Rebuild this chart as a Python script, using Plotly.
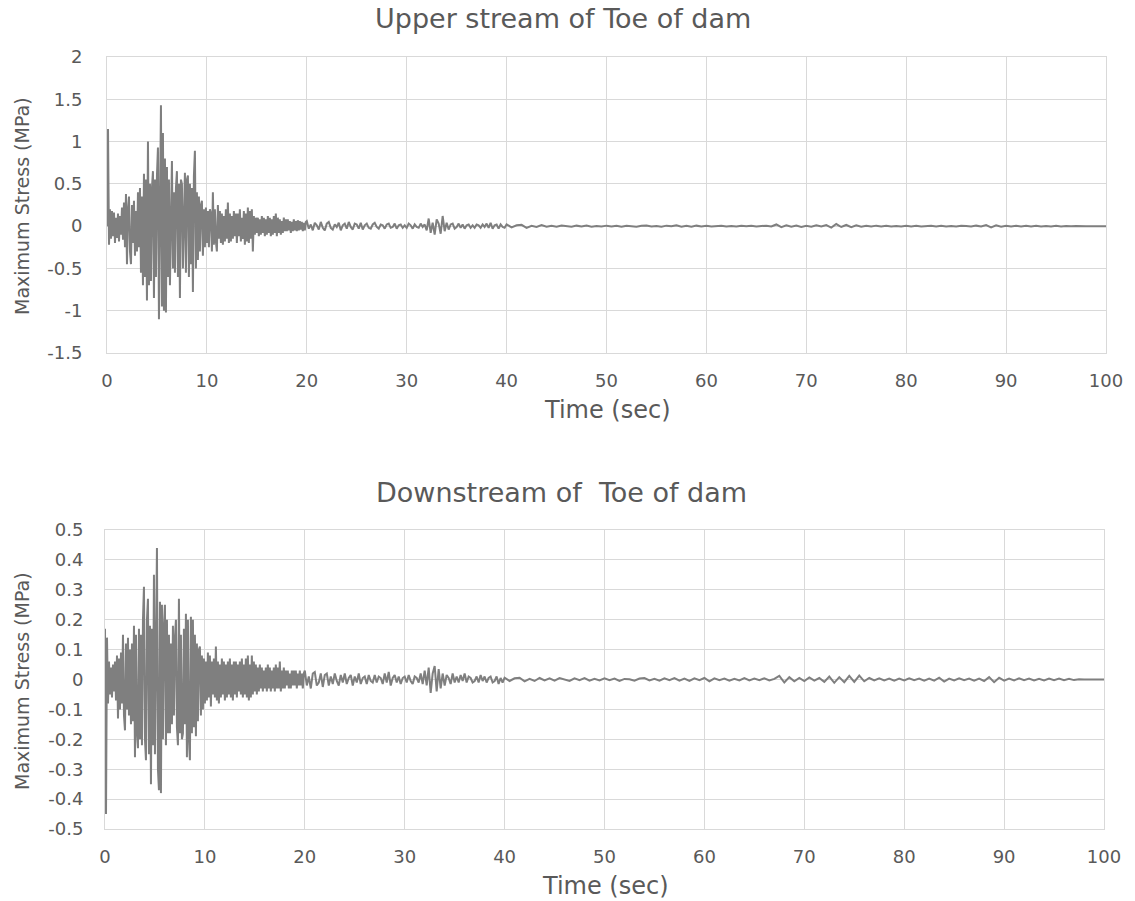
import plotly.graph_objects as go

# ---------------- data ----------------
# Sampling: 0-20 s every 0.1 s, 20-40 s every 0.2 s, 40-100 s every 0.5 s
segments = [(0.0, 0.1, 200), (20.0, 0.2, 100), (40.0, 0.5, 121)]

# Upper stream of toe of dam (MPa)
upper_0_20 = [
    0.0, 1.15, -0.22, 0.20, -0.15, 0.18, -0.12, 0.16, -0.20, 0.10,
    -0.14, 0.15, -0.18, 0.12, -0.10, 0.22, -0.16, 0.28, -0.25, 0.38,
    -0.45, 0.20, 0.35, -0.30, -0.45, 0.25, -0.20, 0.30, -0.35, 0.18,
    -0.30, 0.40, -0.25, 0.45, -0.55, 0.35, -0.70, 0.62, -0.60, 0.55,
    -0.88, 1.00, -0.70, 0.50, -0.65, 0.45, 0.65, -0.85, 0.55, -0.60,
    0.60, 0.93, -1.10, 0.75, 1.43, -0.95, 1.10, -1.00, 0.80, -1.02,
    0.70, -0.60, 0.55, -0.70, 0.45, 0.77, -0.50, 0.40, -0.55, 0.45,
    0.65, -0.60, 0.50, -0.85, 0.55, 0.50, -0.50, 0.40, 0.63, -0.55,
    0.55, 0.60, -0.60, 0.50, -0.45, 0.45, -0.78, 0.60, 0.89, -0.50,
    0.40, -0.40, 0.35, -0.30, 0.25, 0.30, -0.35, 0.20, -0.25, 0.22,
    -0.20, 0.18, -0.25, 0.20, 0.15, -0.30, 0.40, -0.22, 0.20, -0.18,
    -0.30, 0.25, -0.15, 0.18, -0.20, 0.15, -0.22, 0.12, -0.18, 0.20,
    -0.15, 0.28, -0.20, 0.15, -0.18, 0.12, -0.15, 0.18, -0.12, 0.15,
    -0.20, 0.15, -0.12, 0.20, -0.18, 0.10, -0.15, 0.18, -0.22, 0.15,
    -0.18, 0.22, -0.20, 0.18, -0.15, 0.20, -0.30, 0.12, -0.10, 0.10,
    -0.08, 0.10, -0.12, 0.08, -0.10, 0.12, -0.08, 0.10, -0.12, 0.08,
    -0.10, 0.12, -0.08, 0.10, -0.12, 0.08, -0.10, 0.12, -0.08, 0.15,
    -0.12, 0.10, -0.08, 0.08, -0.10, 0.06, -0.08, 0.10, -0.06, 0.08,
    -0.06, 0.08, -0.05, 0.06, -0.08, 0.05, -0.06, 0.08, -0.05, 0.06,
    -0.06, 0.07, -0.05, 0.06, -0.04, 0.05, -0.06, 0.04, -0.05, 0.05,
]
upper_20_40 = [
    0.06, -0.03, 0.02, -0.05, 0.04, 0.01, -0.04, 0.05, -0.02, -0.05,
    0.03, 0.05, -0.02, -0.04, 0.02, -0.01, 0.04, -0.05, 0.01, 0.03,
    -0.03, 0.05, -0.01, -0.04, 0.03, 0.02, -0.03, 0.04, -0.04, 0.01,
    0.03, -0.02, -0.03, 0.02, 0.04, -0.01, -0.03, 0.02, 0.01, -0.03,
    0.02, 0.03, -0.02, -0.01, 0.03, -0.03, 0.01, 0.02, -0.02, 0.01,
    -0.02, 0.03, 0.01, -0.03, 0.02, -0.01, -0.02, 0.03, -0.01, 0.02,
    -0.05, 0.09, -0.08, 0.04, -0.10, 0.08, 0.03, -0.09, 0.12, -0.06,
    0.04, -0.04, 0.02, 0.03, -0.03, -0.01, 0.03, -0.02, 0.02, -0.03,
    0.01, 0.02, -0.02, 0.01, -0.02, 0.02, 0.01, -0.02, 0.02, -0.01,
    0.03, -0.02, 0.04, -0.03, 0.01, 0.02, -0.03, 0.02, -0.01, -0.02,
]
upper_40_100 = [
    0.02, -0.015, 0.01, 0.015, -0.02, 0.005, -0.01, 0.012, -0.008, 0.004,
    -0.006, 0.008, 0.002, -0.008, 0.006, -0.004, 0.008, -0.006, 0.003, -0.005,
    0.006, -0.003, 0.005, -0.008, 0.004, 0.002, -0.006, 0.005, 0.008, -0.004,
    0.003, -0.006, 0.006, -0.002, 0.01, -0.006, 0.004, -0.008, 0.006, -0.003,
    0.004, -0.005, 0.003, 0.005, -0.004, 0.002, -0.005, 0.004, -0.002, 0.004,
    -0.004, 0.003, 0.006, -0.004, 0.02, -0.012, 0.01, -0.008, 0.006, -0.01,
    0.004, -0.006, 0.01, -0.004, 0.012, -0.018, 0.025, -0.01, 0.014, -0.012,
    0.01, -0.006, 0.004, -0.005, 0.006, -0.003, 0.004, -0.005, 0.003, -0.004,
    0.005, -0.003, 0.004, -0.005, 0.002, 0.004, -0.004, 0.005, -0.003, 0.003,
    -0.004, 0.004, 0.002, -0.005, 0.006, -0.004, 0.012, -0.014, 0.01, -0.006,
    0.005, -0.004, 0.004, -0.003, 0.005, -0.004, 0.006, -0.004, 0.003, -0.004,
    0.004, -0.003, 0.003, -0.002, 0.002, -0.002, 0.0, 0.0, 0.0, 0.0,
    0.0,
]

# Downstream of toe of dam (MPa)
down_0_20 = [
    0.17, -0.45, 0.14, -0.08, 0.06, -0.05, 0.04, -0.06, 0.05, -0.04,
    0.06, -0.07, 0.08, -0.13, 0.07, -0.10, 0.09, -0.08, 0.15, -0.12,
    -0.17, 0.12, -0.10, 0.14, -0.12, 0.10, -0.15, 0.12, -0.14, 0.18,
    -0.26, 0.15, -0.18, -0.23, 0.17, -0.20, 0.15, -0.22, 0.20, 0.31,
    -0.20, -0.27, 0.20, 0.27, -0.25, 0.18, -0.35, 0.17, -0.22, 0.35,
    -0.25, 0.22, 0.44, -0.30, -0.37, 0.26, -0.38, 0.25, -0.20, 0.18,
    0.25, -0.22, 0.20, -0.18, 0.15, -0.18, 0.12, -0.15, 0.18, -0.12,
    0.14, 0.20, -0.16, -0.22, 0.27, -0.18, 0.15, -0.20, -0.18, 0.17,
    -0.15, 0.22, -0.26, 0.20, -0.20, -0.27, 0.21, -0.18, 0.20, -0.16,
    0.15, -0.19, 0.12, -0.14, 0.10, 0.11, -0.12, 0.08, -0.10, 0.07,
    -0.08, 0.06, -0.07, 0.09, -0.06, 0.08, -0.09, 0.06, -0.05, 0.07,
    -0.06, 0.11, -0.07, 0.06, -0.08, 0.05, -0.06, 0.07, -0.05, 0.06,
    -0.07, 0.05, -0.06, 0.06, -0.05, 0.07, -0.06, 0.05, -0.07, 0.06,
    -0.05, 0.06, -0.06, 0.05, -0.04, 0.06, -0.05, 0.07, -0.06, 0.05,
    -0.05, 0.07, -0.06, 0.08, -0.07, 0.05, -0.06, 0.08, -0.05, 0.06,
    -0.04, 0.05, -0.05, 0.04, -0.04, 0.05, -0.03, 0.04, -0.04, 0.03,
    -0.03, 0.04, -0.04, 0.05, -0.03, 0.04, -0.04, 0.03, -0.03, 0.04,
    -0.04, 0.05, -0.03, 0.04, -0.03, 0.06, -0.04, 0.03, -0.03, 0.04,
    -0.03, 0.03, -0.02, 0.03, -0.03, 0.02, -0.03, 0.03, -0.02, 0.03,
    -0.02, 0.03, -0.03, 0.02, -0.02, 0.03, -0.02, 0.02, -0.03, 0.02,
]
down_20_40 = [
    0.03, -0.02, 0.01, -0.03, 0.02, 0.025, -0.02, -0.01, 0.02, -0.025,
    0.015, 0.02, -0.02, 0.01, -0.015, 0.02, -0.005, -0.02, 0.015, -0.01,
    0.02, -0.015, 0.005, 0.015, -0.02, 0.01, -0.01, 0.02, -0.015, 0.005,
    0.01, -0.015, 0.015, -0.005, -0.01, 0.015, -0.01, 0.01, 0.005, -0.015,
    0.02, -0.01, 0.025, -0.02, 0.005, 0.015, -0.01, 0.01, -0.015, 0.005,
    0.01, -0.01, 0.015, -0.005, -0.015, 0.01, 0.005, -0.01, 0.02, -0.015,
    0.03, -0.02, 0.04, -0.045, 0.02, 0.045, -0.04, 0.035, -0.03, 0.02,
    -0.02, 0.015, 0.005, -0.015, 0.02, -0.01, 0.01, -0.01, 0.015, -0.005,
    0.02, -0.01, 0.01, 0.005, -0.01, -0.005, 0.01, -0.01, 0.015, -0.005,
    0.01, -0.01, 0.005, 0.01, -0.01, -0.005, 0.01, -0.015, 0.005, -0.01,
]
down_40_100 = [
    0.006, -0.005, 0.004, 0.006, -0.006, 0.002, -0.005, 0.005, -0.003, 0.004,
    -0.004, 0.005, 0.001, -0.005, 0.004, -0.002, 0.005, -0.004, 0.002, -0.003,
    0.004, -0.002, 0.003, -0.005, 0.002, 0.001, -0.004, 0.003, 0.005, -0.003,
    0.002, -0.004, 0.004, -0.002, 0.005, -0.004, 0.003, -0.005, 0.004, -0.002,
    0.005, -0.006, 0.004, -0.002, 0.003, -0.004, 0.002, -0.003, 0.005, -0.003,
    0.003, -0.002, 0.004, -0.003, 0.002, 0.012, -0.01, 0.008, -0.006, 0.005,
    -0.005, 0.007, -0.004, 0.005, -0.008, 0.01, -0.011, 0.008, -0.009, 0.012,
    -0.008, 0.013, -0.006, 0.005, -0.003, 0.004, -0.003, 0.003, -0.004, 0.003,
    -0.003, 0.004, -0.002, 0.003, -0.004, 0.003, -0.004, 0.006, -0.007, 0.003,
    -0.003, 0.004, -0.002, 0.003, -0.004, 0.003, -0.005, 0.008, -0.009, 0.006,
    -0.004, 0.003, -0.003, 0.004, -0.002, 0.003, -0.003, 0.002, -0.003, 0.003,
    -0.002, 0.003, -0.002, 0.002, -0.002, 0.001, 0.0, 0.0, 0.0, 0.0,
    0.0,
]

x_ticks = [0, 10, 20, 30, 40, 50, 60, 70, 80, 90, 100]
upper_ticks = [2, 1.5, 1, 0.5, 0, -0.5, -1, -1.5]
upper_tick_text = ["2", "1.5", "1", "0.5", "0", "-0.5", "-1", "-1.5"]
down_ticks = [0.5, 0.4, 0.3, 0.2, 0.1, 0, -0.1, -0.2, -0.3, -0.4, -0.5]
down_tick_text = ["0.5", "0.4", "0.3", "0.2", "0.1", "0", "-0.1", "-0.2",
                  "-0.3", "-0.4", "-0.5"]

titles = ["Upper stream of Toe of dam", "Downstream of  Toe of dam"]
x_title = "Time (sec)"
y_title = "Maximum Stress (MPa)"


# ---------------- build ----------------
def sample_times():
    t = []
    for start, step, n in segments:
        t.extend(round(start + i * step, 3) for i in range(n))
    return t


time = sample_times()
upper = upper_0_20 + upper_20_40 + upper_40_100
down = down_0_20 + down_20_40 + down_40_100

W, H = 1135, 901
LINE = "#7f7f7f"
GRID = "#d9d9d9"
TXT = "#595959"
FONT = "DejaVu Sans"


def fx(px):
    return px / W


def fy(px):
    return (H - px) / H


fig = go.Figure()
fig.add_trace(go.Scatter(x=time, y=upper, mode="lines",
                         line=dict(color=LINE, width=2),
                         xaxis="x", yaxis="y", showlegend=False))
fig.add_trace(go.Scatter(x=time, y=down, mode="lines",
                         line=dict(color=LINE, width=2),
                         xaxis="x2", yaxis="y2", showlegend=False))

xcommon = dict(range=[0, 100], tickvals=x_ticks, showgrid=True,
               gridcolor=GRID, gridwidth=1, zeroline=False,
               showline=True, linecolor=GRID, mirror=True, automargin=False,
               ticks="", ticklabelstandoff=11,
               tickfont=dict(family=FONT, size=18, color=TXT))
ycommon = dict(showgrid=True, gridcolor=GRID, gridwidth=1, zeroline=False,
               showline=True, linecolor=GRID, mirror=True, automargin=False,
               ticks="", tickfont=dict(family=FONT, size=18, color=TXT))

fig.update_layout(
    width=W, height=H,
    margin=dict(l=0, r=0, t=0, b=0),
    paper_bgcolor="white", plot_bgcolor="white",
    xaxis=dict(domain=[fx(107), fx(1106)], anchor="y", **xcommon),
    yaxis=dict(domain=[fy(353), fy(57)], anchor="x", range=[-1.5, 2],
               tickvals=upper_ticks, ticktext=upper_tick_text,
               ticklabelstandoff=20, **ycommon),
    xaxis2=dict(domain=[fx(105), fx(1104)], anchor="y2", **xcommon),
    yaxis2=dict(domain=[fy(829), fy(530)], anchor="x2", range=[-0.5, 0.5],
                tickvals=down_ticks, ticktext=down_tick_text,
                ticklabelstandoff=17, **ycommon),
)

# chart titles and axis titles placed in page pixels
labels = [
    (titles[0], 563, 18, 0, 27),
    (titles[1], 561, 492, 0, 27),
    (x_title, 607, 410, 0, 24),
    (x_title, 605, 886, 0, 24),
    (y_title, 22, 206, -90, 19),
    (y_title, 22, 681, -90, 19),
]
for text, px, py, angle, size in labels:
    fig.add_annotation(text=text, x=fx(px), y=fy(py), xref="paper",
                       yref="paper", showarrow=False, xanchor="center",
                       yanchor="middle", textangle=angle,
                       font=dict(family=FONT, size=size, color=TXT))

fig.write_html("out.html")
